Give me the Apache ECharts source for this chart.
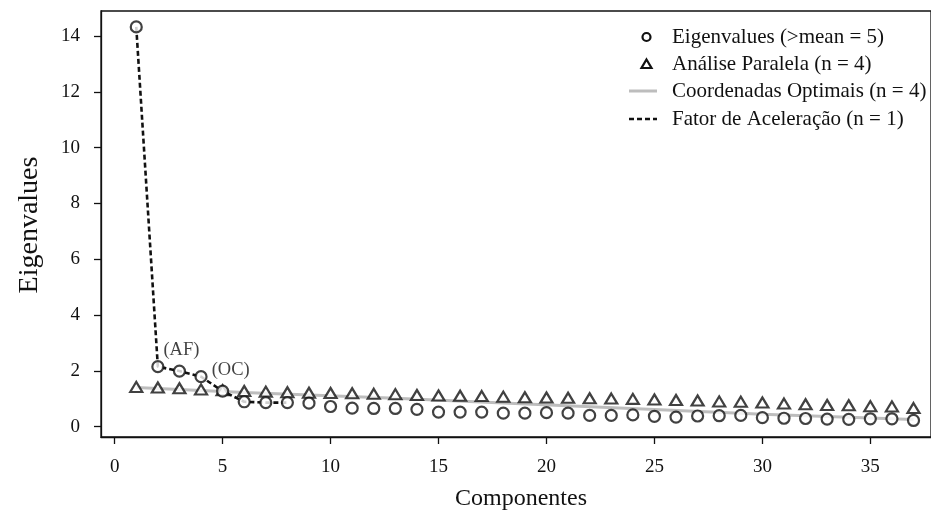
<!DOCTYPE html>
<html><head><meta charset="utf-8">
<script src="https://cdn.jsdelivr.net/npm/echarts@6/dist/echarts.min.js"></script>
<style>html,body{margin:0;padding:0;background:#fff}#c{width:931px;height:513px}</style>
</head><body><div id="c"></div>
<script>
// ---- data ----
const components = [1,2,3,4,5,6,7,8,9,10,11,12,13,14,15,16,17,18,19,20,21,22,23,24,25,26,27,28,29,30,31,32,33,34,35,36,37];
const eigenvalues = [14.33,2.15,1.99,1.79,1.27,0.89,0.86,0.86,0.84,0.72,0.66,0.65,0.65,0.62,0.52,0.52,0.52,0.48,0.48,0.50,0.48,0.40,0.40,0.42,0.37,0.34,0.38,0.39,0.40,0.32,0.30,0.29,0.27,0.26,0.28,0.28,0.22];
const parallelAnalysis = [1.37,1.35,1.32,1.28,1.25,1.22,1.20,1.18,1.16,1.15,1.14,1.12,1.11,1.08,1.06,1.05,1.04,1.02,1.00,0.99,0.98,0.96,0.95,0.94,0.92,0.90,0.88,0.85,0.84,0.81,0.77,0.75,0.72,0.71,0.68,0.67,0.61];
const optimalCoordX = [1,6,13,18,25,30,37];
const optimalCoordY = [1.40,1.22,1.02,0.85,0.61,0.44,0.25];
const accelerationCount = 8; // dashed line joins the first 8 eigenvalues
const annotationComp = [2,4];
const annotationText = ['(AF)','(OC)'];
const xTicks = [0,5,10,15,20,25,30,35];
const yTicks = [0,2,4,6,8,10,12,14];
const legendLabels = ['Eigenvalues (>mean = 5)','Análise Paralela (n = 4)','Coordenadas Optimais (n = 4)','Fator de Aceleração (n = 1)'];
const xTitle = 'Componentes';
const yTitle = 'Eigenvalues';

// ---- chart ----
const FONT = '"Liberation Serif","Times New Roman",serif';
const INK = '#111';
const annotOffsets = [[-6,-16],[-1,-7]];

const eigenData = components.map((c,i)=>{
  const k = annotationComp.indexOf(c);
  if (k < 0) return [c, eigenvalues[i]];
  return {value:[c, eigenvalues[i]], label:{show:true, formatter:annotationText[k], position:'right',
    offset:annotOffsets[k], fontFamily:FONT, fontSize:18.5, color:INK}};
});

const chart = echarts.init(document.getElementById('c'), null, {renderer:'canvas'});
const legendY = [37, 64, 91, 119];
const legendTextX = 672, legendSymX = 646.5;
chart.setOption({
  animation:false,
  backgroundColor:'#fff',
  grid:{left:101, top:11, right:-2, bottom:76, show:true, borderColor:INK, borderWidth:1.3, backgroundColor:'transparent'},
  xAxis:{type:'value', min:-0.633, max:37.81,
    axisLine:{show:true, onZero:false, lineStyle:{color:INK, width:1.3}},
    axisTick:{show:true, inside:false, length:7, customValues:xTicks, lineStyle:{color:INK, width:1.3}},
    axisLabel:{show:true, customValues:xTicks, margin:21, fontFamily:FONT, fontSize:19, color:INK},
    splitLine:{show:false}},
  yAxis:{type:'value', min:-0.373, max:14.9,
    axisLine:{show:true, onZero:false, lineStyle:{color:INK, width:1.3}},
    axisTick:{show:true, inside:false, length:7, customValues:yTicks, lineStyle:{color:INK, width:1.3}},
    axisLabel:{show:true, customValues:yTicks, margin:21, fontFamily:FONT, fontSize:19, color:INK},
    splitLine:{show:false}},
  series:[
    {type:'line', name:legendLabels[2], data:optimalCoordX.map((x,i)=>[x, optimalCoordY[i]]), symbol:'none',
      lineStyle:{color:'#bdbdbd', width:3}, z:1, silent:true},
    {type:'line', name:legendLabels[3], data:components.slice(0,accelerationCount).map((c,i)=>[c, eigenvalues[i]]), symbol:'none',
      lineStyle:{color:INK, width:2.6, type:[5,3]}, z:2, silent:true},
    {type:'scatter', name:legendLabels[1], data:components.map((c,i)=>[c, parallelAnalysis[i]]), symbol:'triangle',
      symbolSize:[12,10], symbolOffset:[0,-1.5], itemStyle:{color:'#fff', borderColor:INK, borderWidth:2.2}, z:3, silent:true},
    {type:'scatter', name:legendLabels[0], data:eigenData, symbol:'circle', symbolSize:11,
      itemStyle:{color:'#fff', borderColor:INK, borderWidth:2.2}, z:4, silent:true}
  ],
  graphic:[
    {type:'circle', shape:{cx:legendSymX, cy:legendY[0], r:4}, style:{fill:'#fff', stroke:INK, lineWidth:2.2}},
    {type:'polygon', shape:{points:[[legendSymX,legendY[1]-4.5],[legendSymX+5,legendY[1]+4],[legendSymX-5,legendY[1]+4]]}, style:{fill:'#fff', stroke:INK, lineWidth:2.2}},
    {type:'line', shape:{x1:629, y1:legendY[2], x2:657, y2:legendY[2]}, style:{stroke:'#bdbdbd', lineWidth:3}},
    {type:'line', shape:{x1:629, y1:legendY[3], x2:657, y2:legendY[3]}, style:{stroke:INK, lineWidth:2.4, lineDash:[5,3]}},
    ...legendLabels.map((t,i)=>({type:'text', x:legendTextX, y:legendY[i], style:{text:t, font:'21px '+FONT, fill:INK, textVerticalAlign:'middle', textAlign:'left'}})),
    {type:'text', x:521, y:499, style:{text:xTitle, font:'24px '+FONT, fill:INK, textAlign:'center', textVerticalAlign:'middle'}},
    {type:'text', x:30, y:225, rotation:Math.PI/2, style:{text:yTitle, font:'28px '+FONT, fill:INK, textAlign:'center', textVerticalAlign:'middle'}}
  ]
});
</script>
</body></html>
